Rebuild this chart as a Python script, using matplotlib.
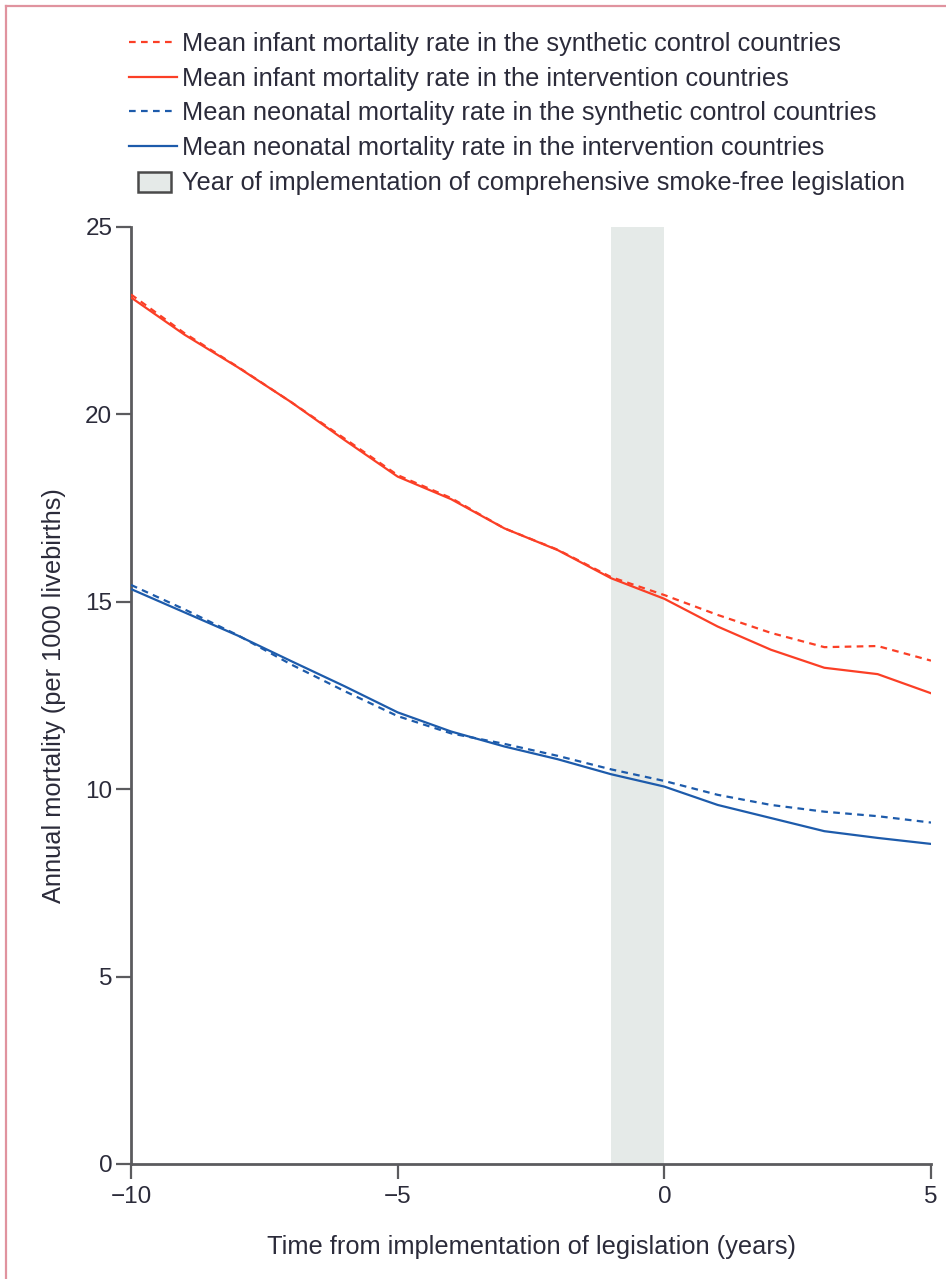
import matplotlib
matplotlib.use("Agg")
import matplotlib.pyplot as plt
from matplotlib.lines import Line2D
from matplotlib.patches import Patch, Rectangle
from matplotlib.legend_handler import HandlerPatch

# years relative to implementation of the legislation
years = [-10, -9, -8, -7, -6, -5, -4, -3, -2, -1, 0, 1, 2, 3, 4, 5]

# infant mortality (per 1000 livebirths)
infant_synth = [23.20, 22.17, 21.27, 20.33, 19.36, 18.38, 17.77, 16.96, 16.39, 15.66, 15.18, 14.65, 14.17, 13.79, 13.82, 13.43]
infant_interv = [23.12, 22.13, 21.26, 20.33, 19.32, 18.34, 17.74, 16.96, 16.38, 15.63, 15.08, 14.34, 13.72, 13.24, 13.07, 12.56]

# neonatal mortality (per 1000 livebirths)
neonatal_synth = [15.45, 14.80, 14.11, 13.33, 12.62, 11.95, 11.49, 11.21, 10.89, 10.53, 10.22, 9.85, 9.58, 9.40, 9.28, 9.11]
neonatal_interv = [15.34, 14.72, 14.10, 13.42, 12.75, 12.05, 11.54, 11.14, 10.80, 10.40, 10.07, 9.58, 9.23, 8.88, 8.70, 8.54]

legend_labels = [
    "Mean infant mortality rate in the synthetic control countries",
    "Mean infant mortality rate in the intervention countries",
    "Mean neonatal mortality rate in the synthetic control countries",
    "Mean neonatal mortality rate in the intervention countries",
    "Year of implementation of comprehensive smoke-free legislation",
]

RED = "#fb3f26"
BLUE = "#1d5bab"
TXT = "#2b2b3a"
AXC = "#5b5b5e"
BAND = "#e5eae8"
dash = (0, (3.0, 2.4))

plain = ["Liberation Sans", "DejaVu Sans"]

fig = plt.figure(figsize=(9.46, 12.79), dpi=100)
ax = fig.add_axes([131 / 946, 1 - 1164 / 1279, 800 / 946, 937 / 1279])

ax.axvspan(-1, 0, color=BAND, lw=0, zorder=0)

ax.plot(years, infant_synth, color=RED, lw=1.6, ls=dash, zorder=3)
ax.plot(years, infant_interv, color=RED, lw=1.6, zorder=3)
ax.plot(years, neonatal_synth, color=BLUE, lw=1.6, ls=dash, zorder=3)
ax.plot(years, neonatal_interv, color=BLUE, lw=1.6, zorder=3)

ax.set_xlim(-10, 5)
ax.set_ylim(0, 25)
ax.set_xticks([-10, -5, 0, 5])
ax.set_yticks([0, 5, 10, 15, 20, 25])

for s in ["top", "right"]:
    ax.spines[s].set_visible(False)
for s in ["left", "bottom"]:
    ax.spines[s].set_color(AXC)
    ax.spines[s].set_linewidth(2.0)

ax.tick_params(axis="both", direction="out", length=10.5, width=1.6, color=AXC,
               labelsize=17.5, labelcolor=TXT, pad=3)
ax.tick_params(axis="x", pad=5)
for lab in ax.get_xticklabels() + ax.get_yticklabels():
    lab.set_family(plain)

ax.set_xlabel("Time from implementation of legislation (years)", family=plain,
              fontsize=18.3, color=TXT, labelpad=20)
ax.set_ylabel("Annual mortality (per 1000 livebirths)", family=plain,
              fontsize=18.3, color=TXT, labelpad=14)


class SmallBox(HandlerPatch):
    def create_artists(self, legend, orig_handle, xdescent, ydescent, width, height, fontsize, trans):
        w = width * 0.67
        h = height * 1.1
        r = Rectangle((xdescent + (width - w) / 2 + width * 0.03, ydescent - 0.12 * height), w, h,
                      facecolor=BAND, edgecolor="#4a4a4a", lw=1.8, transform=trans)
        return [r]


handles = [
    Line2D([], [], color=RED, lw=1.6, ls=dash),
    Line2D([], [], color=RED, lw=1.6),
    Line2D([], [], color=BLUE, lw=1.6, ls=dash),
    Line2D([], [], color=BLUE, lw=1.6),
    Patch(facecolor=BAND, edgecolor="#4a4a4a"),
]
leg = fig.legend(handles, legend_labels, loc="upper left",
                 bbox_to_anchor=(129 / 946, 1 - 32 / 1279), frameon=False,
                 prop={"family": plain, "size": 18.3}, labelcolor=TXT,
                 handlelength=1.9, handletextpad=0.17, labelspacing=0.42,
                 borderpad=0, borderaxespad=0,
                 handler_map={Patch: SmallBox()})

# page border
fig.add_artist(Line2D([6 / 946, 6 / 946], [0, 1 - 6 / 1279], color="#e0939f", lw=1.6))
fig.add_artist(Line2D([6 / 946, 1], [1 - 6 / 1279, 1 - 6 / 1279], color="#e0939f", lw=1.6))

fig.savefig("out.png", dpi=100, facecolor="white")
